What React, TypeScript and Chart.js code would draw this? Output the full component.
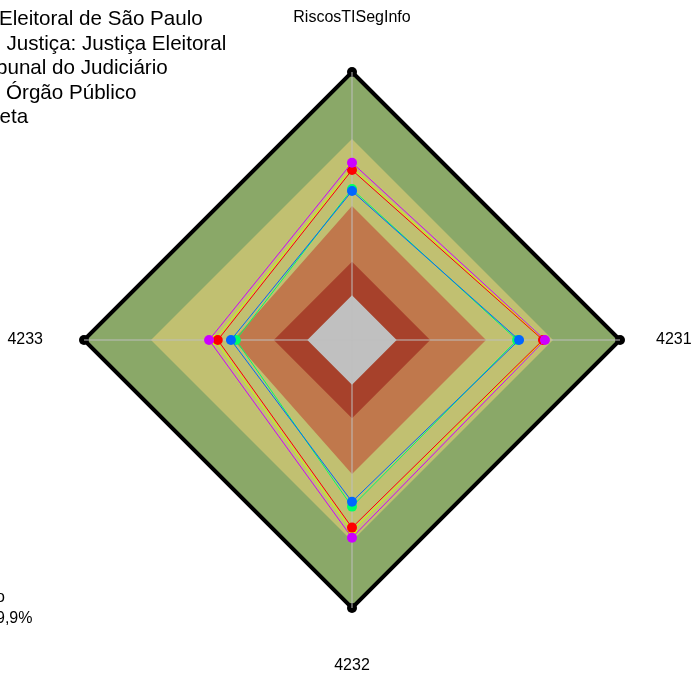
import React, { useEffect, useRef } from "react";
import { Chart, registerables } from "chart.js";

Chart.register(...registerables);

// Axis labels (clockwise from top)
const axisLabels = ["RiscosTISegInfo", "4231", "4232", "4233"];

// Band boundaries (capability levels)
const bandGreen = [1, 1, 1, 1];
const bandYellow = [0.7, 0.7, 0.7, 0.7];
const bandOrange = [0.4, 0.4, 0.4, 0.33];
const bandDarkRed = [0.15, 0.15, 0.15, 0.15];
const bandGray = [0, 0, 0, 0];

// Series values
const seriesRed = [0.561, 0.655, 0.64, 0.401];
const seriesYellow = [0.572, 0.66, 0.655, 0.413];
const seriesGreen = [0.476, 0.539, 0.546, 0.32];
const seriesBlue = [0.467, 0.548, 0.524, 0.342];
const seriesMagenta = [0.594, 0.664, 0.685, 0.44];

// Visible legend text (left part cut off in the reference)
const legendLines = [
  "Eleitoral de São Paulo",
  "Justiça: Justiça Eleitoral",
  "bunal do Judiciário",
  "Órgão Público",
  "eta",
];
const legendX = [-1, 6.5, -4, 6, -0.5];

const footLines = ["o", "9,9%"];

const FONT = '"Liberation Sans", Arial, sans-serif';

function band(data: number[], color: string, order: number, outer = false) {
  return {
    data,
    backgroundColor: color,
    borderColor: outer ? "#000000" : color,
    borderWidth: outer ? 4 : 0,
    pointRadius: outer ? 5 : 0,
    pointBackgroundColor: "#000000",
    pointBorderWidth: 0,
    fill: "start",
    order,
    clip: false,
  };
}

function series(data: number[], color: string, order: number) {
  return {
    data,
    borderColor: color,
    backgroundColor: color,
    borderWidth: 1,
    pointRadius: 5,
    pointBackgroundColor: color,
    pointBorderWidth: 0,
    fill: false,
    order,
    clip: false,
  };
}

const GRAY_INDEX = 4;

const spokePlugin = {
  id: "spokes",
  afterDatasetDraw(chart: any, args: any) {
    if (args.index !== GRAY_INDEX) return;
    const scale = chart.scales.r;
    const ctx = chart.ctx;
    ctx.save();
    ctx.strokeStyle = "#BEBEBE";
    ctx.lineWidth = 1;
    for (let i = 0; i < axisLabels.length; i++) {
      const p = scale.getPointPositionForValue(i, scale.max);
      ctx.beginPath();
      ctx.moveTo(scale.xCenter, scale.yCenter);
      ctx.lineTo(p.x, p.y);
      ctx.stroke();
    }
    ctx.restore();
  },
};

const textPlugin = {
  id: "texts",
  afterDraw(chart: any) {
    const scale = chart.scales.r;
    const ctx = chart.ctx;
    ctx.save();
    ctx.fillStyle = "#000000";
    // axis labels
    ctx.font = `16px ${FONT}`;
    const offs = [
      { dx: 0, dy: -50, align: "center", base: "alphabetic" },
      { dx: 36, dy: 0, align: "left", base: "middle" },
      { dx: 0, dy: 62, align: "center", base: "alphabetic" },
      { dx: -41, dy: 0, align: "right", base: "middle" },
    ];
    axisLabels.forEach((lab, i) => {
      const p = scale.getPointPositionForValue(i, scale.max);
      const o = offs[i];
      ctx.textAlign = o.align;
      ctx.textBaseline = o.base;
      ctx.fillText(lab, p.x + o.dx, p.y + o.dy);
    });
    // legend
    ctx.font = `20.6px ${FONT}`;
    ctx.textAlign = "left";
    ctx.textBaseline = "alphabetic";
    legendLines.forEach((t, i) => {
      ctx.fillText(t, legendX[i], 25 + i * 24.5);
    });
    // footnote fragments
    ctx.font = `16px ${FONT}`;
    ctx.fillText(footLines[0], -4, 602);
    ctx.fillText(footLines[1], -4, 623);
    ctx.restore();
  },
};

export default function App() {
  const ref = useRef<HTMLCanvasElement>(null);
  useEffect(() => {
    document.body.style.margin = "0";
    const canvas = ref.current!;
    const chart = new Chart(canvas, {
      type: "radar",
      data: {
        labels: axisLabels,
        datasets: [
          band(bandGreen, "#8AA868", 10, true),
          band(bandYellow, "#C1C071", 9),
          band(bandOrange, "#C0784C", 8),
          band(bandDarkRed, "#A7412B", 7),
          band(bandGray, "#C0C0C0", 6),
          series(seriesRed, "#FF0000", 4),
          series(seriesYellow, "#CCFF00", 5),
          series(seriesGreen, "#00FF66", 3),
          series(seriesBlue, "#0066FF", 2),
          series(seriesMagenta, "#CC00FF", 1),
        ] as any,
      },
      options: {
        responsive: false,
        animation: false,
        events: [],
        layout: { padding: { left: 84, right: 73, top: 72, bottom: 67 } },
        plugins: {
          legend: { display: false },
          tooltip: { enabled: false },
        },
        elements: { line: { tension: 0 } },
        scales: {
          r: {
            min: -0.2,
            max: 1,
            ticks: { display: false },
            grid: { display: false },
            angleLines: { display: false },
            pointLabels: { display: false },
          },
        },
      } as any,
      plugins: [spokePlugin, textPlugin],
    });
    return () => chart.destroy();
  }, []);
  return (
    <div style={{ position: "fixed", left: 0, top: 0, width: 693, height: 675, background: "#ffffff" }}>
      <canvas ref={ref} width={693} height={675} style={{ display: "block" }} />
    </div>
  );
}
